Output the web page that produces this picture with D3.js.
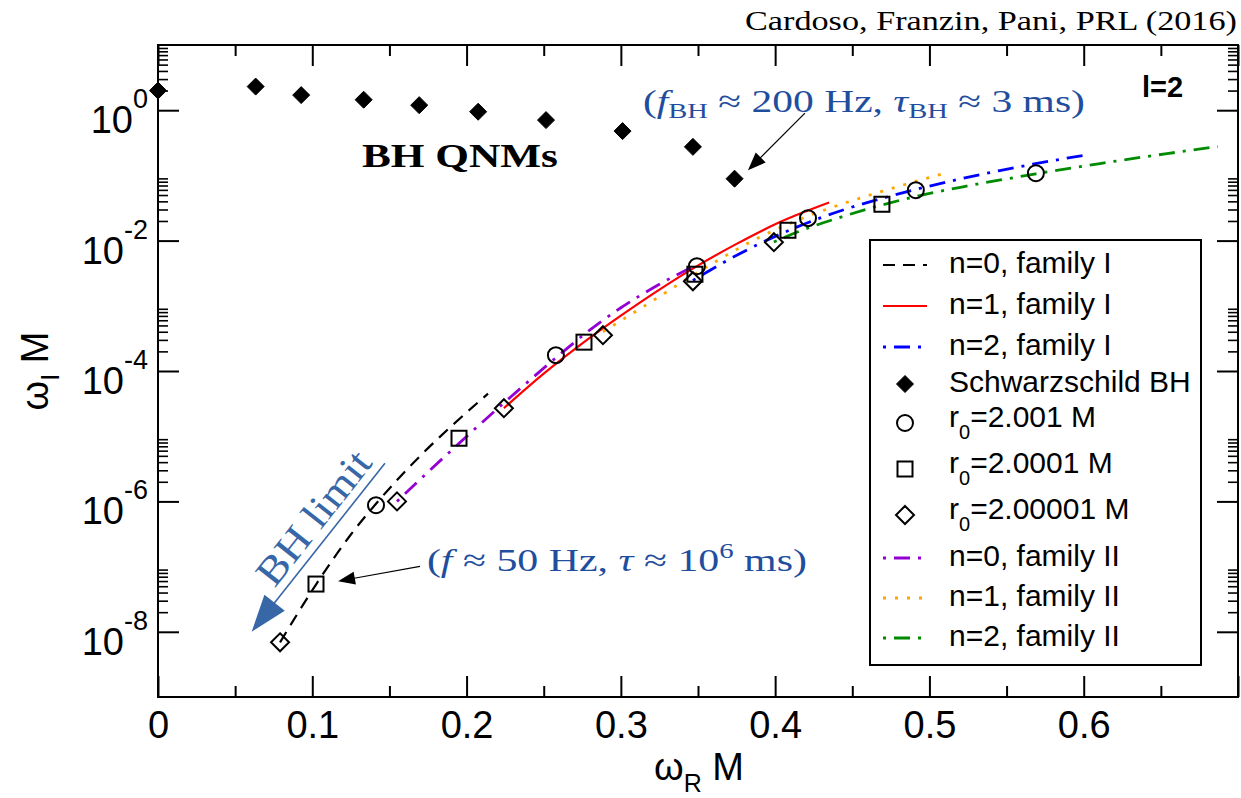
<!DOCTYPE html>
<html>
<head>
<meta charset="utf-8">
<script src="https://cdn.jsdelivr.net/npm/d3@7"></script>
<style>
  html, body { margin: 0; padding: 0; background: #fff; }
  svg { display: block; }
</style>
</head>
<body>
<svg id="chart" width="1241" height="798"></svg>
<script>
// ---- Schwarzschild BH quasinormal modes, l=2 (omega_R M, omega_I M) ----
const bhQnm_wR = [0.3737, 0.3467, 0.3011, 0.2515, 0.2075, 0.1693, 0.1333, 0.0928, 0.0000, 0.0633];
const bhQnm_wI = [0.0890, 0.2739, 0.4783, 0.7051, 0.9468, 1.1956, 1.4479, 1.7038, 2.0000, 2.3026];

// ---- Wormhole modes, family I ----
const n0famI_wR = [0.0791, 0.1024, 0.1244, 0.1413, 0.1568, 0.1717, 0.1892, 0.2139];
const n0famI_wI = [6.9e-9, 5.3e-8, 2.97e-7, 9.2e-7, 2.37e-6, 5.48e-6, 1.36e-5, 4.49e-5];

const n1famI_wR = [0.2242, 0.2500, 0.2761, 0.3000, 0.3250, 0.3493, 0.3750, 0.4000, 0.4350];
const n1famI_wI = [2.69e-5, 9.1e-5, 2.77e-4, 7.05e-4, 1.77e-3, 4.06e-3, 8.9e-3, 1.78e-2, 3.83e-2];

const n2famI_wR = [0.3467, 0.3770, 0.4140, 0.4440, 0.4700, 0.4910, 0.5200, 0.5456, 0.5670, 0.5994];
const n2famI_wI = [2.45e-3, 6.3e-3, 1.61e-2, 2.95e-2, 4.49e-2, 6.08e-2, 8.83e-2, 0.1186, 0.1486, 0.2018];

// ---- Wormhole modes, family II ----
const n0famII_wR = [0.1549, 0.1750, 0.1951, 0.2242, 0.2420, 0.2605, 0.2800, 0.3000, 0.3250, 0.3500];
const n0famII_wI = [1.0e-6, 2.82e-6, 7.76e-6, 3.24e-5, 7.59e-5, 1.80e-4, 4.27e-4, 9.33e-4, 2.14e-3, 4.37e-3];

const n1famII_wR = [0.2884, 0.3169, 0.3383, 0.3597, 0.3856, 0.4180, 0.4439, 0.4698, 0.5087];
const n1famII_wI = [4.0e-4, 1.05e-3, 2.2e-3, 4.5e-3, 1.0e-2, 2.22e-2, 3.68e-2, 5.75e-2, 0.106];

const n2famII_wR = [0.3992, 0.4140, 0.4400, 0.4700, 0.4920, 0.5240, 0.5690, 0.6105, 0.6540, 0.6870];
const n2famII_wI = [9.5e-3, 1.34e-2, 2.19e-2, 3.56e-2, 4.80e-2, 6.84e-2, 0.1057, 0.152, 0.216, 0.277];

// ---- Sampled throat radii ----
const r2001_wR = [0.1413, 0.2579, 0.3493, 0.4213, 0.4912, 0.5690];
const r2001_wI = [8.75e-7, 1.75e-4, 4.05e-3, 2.21e-2, 5.93e-2, 0.108];
const r20001_wR = [0.1024, 0.1951, 0.2761, 0.3480, 0.4083, 0.4692];
const r20001_wI = [5.4e-8, 9.3e-6, 2.77e-4, 3.05e-3, 1.44e-2, 3.61e-2];
const r200001_wR = [0.0791, 0.1549, 0.2242, 0.2884, 0.3467, 0.3992];
const r200001_wI = [6.9e-9, 1.0e-6, 2.69e-5, 3.54e-4, 2.38e-3, 9.45e-3];

// ---- Axis ticks ----
const xMajorTicks = [0, 0.1, 0.2, 0.3, 0.4, 0.5, 0.6, 0.7];
const xMinorTicks = [0.05, 0.15, 0.25, 0.35, 0.45, 0.55, 0.65];
const xTickLabels = ["0", "0.1", "0.2", "0.3", "0.4", "0.5", "0.6", ""];
const yMajorExps = [-8, -6, -4, -2, 0];
const yTickLabels = ["-8", "-6", "-4", "-2", "0"];

const zip = (a, b) => a.map((v, i) => [v, b[i]]);

const svg = d3.select("#chart");
const W = 1241, H = 798;
const plot = { left: 158, right: 1238, top: 45, bottom: 697 };

const x = d3.scaleLinear().domain([0, 0.7]).range([plot.left, plot.right]);
const y = d3.scaleLog().domain([1e-9, 1e1]).range([plot.bottom, plot.top]);
const at = (wr, wi) => [x(wr), y(wi)];

const SANS = "'Liberation Sans', Arimo, Helvetica, Arial, sans-serif";
const SERIF = "'Liberation Serif', 'Times New Roman', serif";
const BLUE_TXT = "#1f4e9e";
const BLUE_ARROW = "#3767a6";

svg.append("rect").attr("width", W).attr("height", H).attr("fill", "#fff");

svg.append("clipPath").attr("id", "plotClip")
  .append("rect")
  .attr("x", plot.left).attr("y", plot.top)
  .attr("width", plot.right - plot.left).attr("height", plot.bottom - plot.top);

// ---- Curves ----
const lineSeries = [
  { name: "n=0, family I",  data: zip(n0famI_wR, n0famI_wI),   color: "#000000", dash: "12,8",      width: 2.2 },
  { name: "n=1, family I",  data: zip(n1famI_wR, n1famI_wI),   color: "#ff0000", dash: null,        width: 2.2 },
  { name: "n=2, family I",  data: zip(n2famI_wR, n2famI_wI),   color: "#0000ff", dash: "3,8,16,8",  width: 2.8 },
  { name: "n=0, family II", data: zip(n0famII_wR, n0famII_wI), color: "#9400d3", dash: "3,8,16,8",  width: 2.8 },
  { name: "n=1, family II", data: zip(n1famII_wR, n1famII_wI), color: "#ffa500", dash: "3,9",       width: 2.8 },
  { name: "n=2, family II", data: zip(n2famII_wR, n2famII_wI), color: "#008b00", dash: "3,8,16,8",  width: 2.8 }
];

const line = d3.line().x(d => x(d[0])).y(d => y(d[1])).curve(d3.curveMonotoneX);

const curves = svg.append("g").attr("clip-path", "url(#plotClip)");
curves.selectAll("path")
  .data(lineSeries)
  .join("path")
  .attr("d", d => line(d.data))
  .attr("fill", "none")
  .attr("stroke", d => d.color)
  .attr("stroke-width", d => d.width)
  .attr("stroke-dasharray", d => d.dash)
  .attr("stroke-linecap", "butt");

// ---- Markers ----
function drawSymbol(g, kind, cx, cy, filled) {
  const fill = filled ? "#000" : "none";
  if (kind === "circle") {
    g.append("circle").attr("cx", cx).attr("cy", cy).attr("r", 8)
      .attr("fill", fill).attr("stroke", "#000").attr("stroke-width", 2);
  } else if (kind === "square") {
    g.append("rect").attr("x", cx - 7.5).attr("y", cy - 7.5).attr("width", 15).attr("height", 15)
      .attr("fill", fill).attr("stroke", "#000").attr("stroke-width", 2);
  } else {
    const s = filled ? 8.5 : 9;
    g.append("path").attr("d", `M${cx},${cy - s}L${cx + s},${cy}L${cx},${cy + s}L${cx - s},${cy}Z`)
      .attr("fill", fill).attr("stroke", "#000").attr("stroke-width", filled ? 1 : 2);
  }
}

const markerSeries = [
  { kind: "diamond", filled: true,  data: zip(bhQnm_wR, bhQnm_wI) },
  { kind: "circle",  filled: false, data: zip(r2001_wR, r2001_wI) },
  { kind: "square",  filled: false, data: zip(r20001_wR, r20001_wI) },
  { kind: "diamond", filled: false, data: zip(r200001_wR, r200001_wI) }
];
const markers = svg.append("g");
markerSeries.forEach(s => s.data.forEach(d => drawSymbol(markers, s.kind, x(d[0]), y(d[1]), s.filled)));

// ---- Axes (ticks on all four sides, pointing inward) ----
function styleAxis(g) {
  g.select(".domain").remove();
  g.selectAll(".tick line").attr("stroke", "#000").attr("stroke-width", 2);
}
const yMajor = yMajorExps.map(e => Math.pow(10, e));
const yMinor = [];
yMajorExps.forEach(e => { for (let k = 2; k <= 9; k++) yMinor.push(k * Math.pow(10, e)); });

svg.append("g").attr("transform", `translate(0,${plot.bottom})`)
  .call(d3.axisBottom(x).tickValues(xMajorTicks).tickSize(-21).tickSizeOuter(0).tickPadding(14)
    .tickFormat((d, i) => xTickLabels[i]))
  .call(styleAxis)
  .call(g => g.selectAll(".tick text").attr("font-family", SANS).attr("font-size", 38).attr("fill", "#000"));
svg.append("g").attr("transform", `translate(0,${plot.bottom})`)
  .call(d3.axisBottom(x).tickValues(xMinorTicks).tickSize(-11).tickSizeOuter(0).tickFormat(""))
  .call(styleAxis);
svg.append("g").attr("transform", `translate(0,${plot.top})`)
  .call(d3.axisTop(x).tickValues(xMajorTicks).tickSize(-21).tickSizeOuter(0).tickFormat(""))
  .call(styleAxis);
svg.append("g").attr("transform", `translate(0,${plot.top})`)
  .call(d3.axisTop(x).tickValues(xMinorTicks).tickSize(-11).tickSizeOuter(0).tickFormat(""))
  .call(styleAxis);

svg.append("g").attr("transform", `translate(${plot.left},0)`)
  .call(d3.axisLeft(y).tickValues(yMajor).tickSize(-21).tickSizeOuter(0).tickFormat(""))
  .call(styleAxis);
svg.append("g").attr("transform", `translate(${plot.left},0)`)
  .call(d3.axisLeft(y).tickValues(yMinor).tickSize(-10).tickSizeOuter(0).tickFormat(""))
  .call(styleAxis)
  .call(g => g.selectAll(".tick line").attr("stroke-width", 1.6));
svg.append("g").attr("transform", `translate(${plot.right},0)`)
  .call(d3.axisRight(y).tickValues(yMajor).tickSize(-21).tickSizeOuter(0).tickFormat(""))
  .call(styleAxis);
svg.append("g").attr("transform", `translate(${plot.right},0)`)
  .call(d3.axisRight(y).tickValues(yMinor).tickSize(-10).tickSizeOuter(0).tickFormat(""))
  .call(styleAxis)
  .call(g => g.selectAll(".tick line").attr("stroke-width", 1.6));

// y tick labels as powers of ten
const yLab = svg.append("g").attr("font-family", SANS).attr("fill", "#000");
yMajorExps.forEach((e, i) => {
  const t = yLab.append("text")
    .attr("x", plot.left - 10)
    .attr("y", y(Math.pow(10, e)) + 23)
    .attr("text-anchor", "end");
  t.append("tspan").attr("font-size", 38).text("10");
  t.append("tspan").attr("font-size", 27).attr("dy", -25).text(yTickLabels[i]);
});

// frame
svg.append("rect")
  .attr("x", plot.left).attr("y", plot.top)
  .attr("width", plot.right - plot.left).attr("height", plot.bottom - plot.top)
  .attr("fill", "none").attr("stroke", "#000").attr("stroke-width", 2);

// axis titles
const xt = svg.append("text")
  .attr("x", (plot.left + plot.right) / 2 + 1).attr("y", 780)
  .attr("text-anchor", "middle").attr("font-family", SANS).attr("font-size", 38).attr("fill", "#000");
xt.append("tspan").text("ω");
xt.append("tspan").attr("font-size", 25).attr("dy", 12).text("R");
xt.append("tspan").attr("dy", -12).text(" M");

const yt = svg.append("text")
  .attr("transform", `translate(48,${(plot.top + plot.bottom) / 2}) rotate(-90)`)
  .attr("text-anchor", "middle").attr("font-family", SANS).attr("font-size", 38).attr("fill", "#000");
yt.append("tspan").text("ω");
yt.append("tspan").attr("font-size", 25).attr("dy", 11).text("I");
yt.append("tspan").attr("dy", -11).text(" M");

// ---- Legend ----
const legend = svg.append("g");
legend.append("rect")
  .attr("x", 870).attr("y", 240).attr("width", 331).attr("height", 425)
  .attr("fill", "#fff").attr("stroke", "#000").attr("stroke-width", 2);

const legendRows = [
  { type: "line", series: 0, cy: 265, label: ["n=0, family I"] },
  { type: "line", series: 1, cy: 306, label: ["n=1, family I"] },
  { type: "line", series: 2, cy: 347, label: ["n=2, family I"] },
  { type: "sym", marker: 0, cy: 384, label: ["Schwarzschild BH"] },
  { type: "sym", marker: 1, cy: 423, label: ["r", "0", "=2.001 M"] },
  { type: "sym", marker: 2, cy: 469, label: ["r", "0", "=2.0001 M"] },
  { type: "sym", marker: 3, cy: 515, label: ["r", "0", "=2.00001 M"] },
  { type: "line", series: 3, cy: 558, label: ["n=0, family II"] },
  { type: "line", series: 4, cy: 598, label: ["n=1, family II"] },
  { type: "line", series: 5, cy: 638, label: ["n=2, family II"] }
];
legendRows.forEach(r => {
  if (r.type === "line") {
    const s = lineSeries[r.series];
    legend.append("line")
      .attr("x1", 883).attr("x2", 927).attr("y1", r.cy).attr("y2", r.cy)
      .attr("stroke", s.color).attr("stroke-width", s.width).attr("stroke-dasharray", s.dash);
  } else {
    const m = markerSeries[r.marker];
    drawSymbol(legend, m.kind, 905, r.cy, m.filled);
  }
  const sub = r.label.length > 1;
  const t = legend.append("text")
    .attr("x", 949).attr("y", r.cy + (sub ? 4 : 8))
    .attr("font-family", SANS).attr("font-size", 30).attr("fill", "#000");
  if (sub) {
    t.append("tspan").text(r.label[0]);
    t.append("tspan").attr("font-size", 20).attr("dy", 12).text(r.label[1]);
    t.append("tspan").attr("dy", -12).text(r.label[2]);
  } else {
    t.text(r.label[0]);
  }
});

// ---- Annotations ----
function arrow(g, p0, p1, color, width, headLen, headHalf) {
  const dx = p1[0] - p0[0], dy = p1[1] - p0[1];
  const L = Math.hypot(dx, dy), ux = dx / L, uy = dy / L;
  const bx = p1[0] - ux * headLen, by = p1[1] - uy * headLen;
  g.append("line")
    .attr("x1", p0[0]).attr("y1", p0[1]).attr("x2", bx + ux * 2).attr("y2", by + uy * 2)
    .attr("stroke", color).attr("stroke-width", width);
  g.append("path")
    .attr("d", `M${p1[0]},${p1[1]}L${bx - uy * headHalf},${by + ux * headHalf}L${bx + uy * headHalf},${by - ux * headHalf}Z`)
    .attr("fill", color);
}

const notes = svg.append("g");

// citation
notes.append("text")
  .attr("x", 1237).attr("y", 30).attr("text-anchor", "end")
  .attr("font-family", SERIF).attr("font-size", 28).attr("fill", "#000")
  .attr("textLength", 492).attr("lengthAdjust", "spacingAndGlyphs")
  .text("Cardoso, Franzin, Pani, PRL (2016)");

// multipole label
notes.append("text")
  .attr("x", 1142).attr("y", 97)
  .attr("font-family", SANS).attr("font-weight", "bold").attr("font-size", 29).attr("fill", "#000")
  .text("l=2");

// BH QNMs label
const qnmPos = at(0.1322, 0.1336);
notes.append("text")
  .attr("x", qnmPos[0]).attr("y", qnmPos[1])
  .attr("font-family", SERIF).attr("font-weight", "bold").attr("font-size", 34).attr("fill", "#000")
  .attr("textLength", 196).attr("lengthAdjust", "spacingAndGlyphs")
  .text("BH QNMs");

// fundamental BH mode annotation
const bhNotePos = at(0.3143, 0.955);
const bhNote = notes.append("text")
  .attr("x", bhNotePos[0]).attr("y", bhNotePos[1])
  .attr("font-family", SERIF).attr("font-size", 32).attr("fill", BLUE_TXT)
  .attr("textLength", 442).attr("lengthAdjust", "spacingAndGlyphs");
bhNote.append("tspan").text("(");
bhNote.append("tspan").attr("font-style", "italic").text("f");
bhNote.append("tspan").attr("font-size", 22).attr("dy", 6).text("BH");
bhNote.append("tspan").attr("dy", -6).text(" ≈ 200 Hz, ");
bhNote.append("tspan").attr("font-style", "italic").text("τ");
bhNote.append("tspan").attr("font-size", 22).attr("dy", 6).text("BH");
bhNote.append("tspan").attr("dy", -6).text(" ≈ 3 ms)");
arrow(notes, at(0.4193, 0.90), at(0.3824, 0.120), "#000", 1.2, 18, 7);

// low-frequency wormhole mode annotation
const whNotePos = at(0.1743, 8.5e-8);
const whNote = notes.append("text")
  .attr("x", whNotePos[0]).attr("y", whNotePos[1])
  .attr("font-family", SERIF).attr("font-size", 32).attr("fill", BLUE_TXT)
  .attr("textLength", 380).attr("lengthAdjust", "spacingAndGlyphs");
whNote.append("tspan").text("(");
whNote.append("tspan").attr("font-style", "italic").text("f");
whNote.append("tspan").text(" ≈ 50 Hz, ");
whNote.append("tspan").attr("font-style", "italic").text("τ");
whNote.append("tspan").text(" ≈ 10");
whNote.append("tspan").attr("font-size", 22).attr("dy", -13).text("6");
whNote.append("tspan").attr("dy", 13).text(" ms)");
arrow(notes, at(0.1698, 1.01e-7), at(0.1167, 5.97e-8), "#000", 1.2, 17, 6.5);

// BH limit arrow with rotated label
const limStart = at(0.1471, 3.85e-6), limTip = at(0.0607, 1.0e-8);
arrow(notes, limStart, limTip, BLUE_ARROW, 1.6, 37, 13);
const limAngle = Math.atan2(limStart[1] - limTip[1], limStart[0] - limTip[0]) * 180 / Math.PI;
const limPos = at(0.1005, 5.7e-7);
notes.append("text")
  .attr("transform", `translate(${limPos[0]},${limPos[1]}) rotate(${limAngle})`)
  .attr("text-anchor", "middle").attr("dy", "0.35em")
  .attr("font-family", SERIF).attr("font-size", 40).attr("fill", BLUE_ARROW)
  .attr("textLength", 160).attr("lengthAdjust", "spacingAndGlyphs")
  .text("BH limit");
</script>
</body>
</html>
